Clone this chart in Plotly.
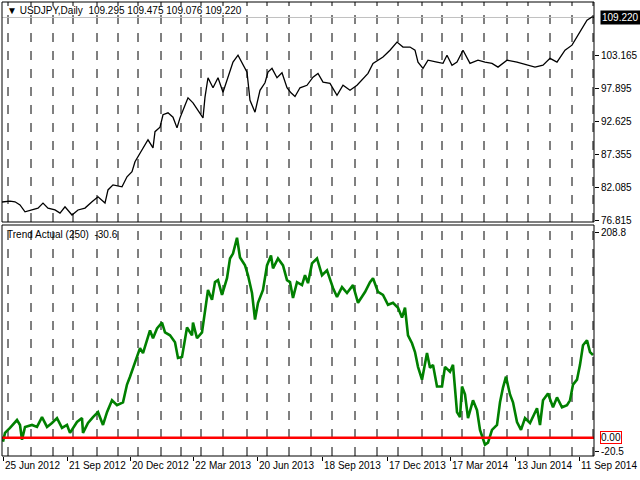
import plotly.graph_objects as go

# bar index (≈ trading days from chart start) and values
price_x = [2,10,15,20,25,32,38,43,48,55,60,65,72,78,85,92,98,105,108,113,122,127,132,135,140,145,148,153,155,160,163,168,173,177,180,185,188,193,198,203,205,208,213,218,223,227,230,233,238,242,247,250,255,260,265,268,272,277,282,287,291,295,300,307,313,318,323,330,337,343,350,357,362,368,373,378,383,390,397,403,410,415,418,423,428,437,443,447,452,457,463,470,478,485,492,498,507,517,527,535,543,550,557,565,572,577,582,587,592,594]
price_y = [79.77,79.9,79.8,79.3,78.2,78.5,78.8,79.6,78.8,78.5,78.0,79.0,77.7,78.5,78.8,79.8,80.6,79.6,81.7,82.5,82.2,83.8,84.6,86.2,87.6,88.9,89.7,88.4,91.0,91.7,93.7,94.0,93.3,91.6,93.2,95.2,96.4,95.6,94.5,93.2,96.5,99.6,98.0,99.6,97.3,99.2,100.5,102.1,103.2,102.1,100.5,96.0,94.1,97.6,98.8,100.5,101.1,99.6,100.4,98.0,97.2,96.6,98.0,98.4,99.7,100.3,98.9,98.7,96.8,98.4,97.6,98.4,99.2,100.3,101.9,102.4,102.9,104.0,105.3,104.5,104.5,104.0,102.1,101.1,102.4,102.1,101.9,103.2,101.6,102.1,104.0,101.9,102.4,102.1,101.9,101.3,102.4,102.1,101.6,101.3,101.6,102.7,102.1,104.0,104.8,106.1,107.5,108.8,109.3,109.22]

trend_x = [3,5,10,17,20,22,25,32,37,42,47,52,57,62,67,70,77,82,83,88,93,98,103,107,112,117,123,127,130,135,140,143,147,150,153,157,162,165,170,175,178,182,187,192,193,197,202,205,208,212,215,218,222,227,230,233,237,240,245,248,252,255,258,263,267,271,273,278,283,287,290,293,297,302,305,308,312,317,322,327,333,337,342,347,353,358,365,370,373,378,383,388,393,398,402,405,408,412,415,418,422,427,430,433,437,442,445,450,453,457,460,462,465,468,473,477,480,485,488,492,497,500,503,506,510,513,517,521,525,530,537,540,543,548,553,557,562,567,570,573,577,580,583,587,590,593]
trend_y = [-4,5,10,18,13,-2,11,13,11,21,11,15,20,10,13,5,16,20,5,15,21,26,13,26,38,33,36,54,62,77,91,86,99,109,101,111,117,107,104,97,81,82,112,104,117,101,107,130,150,140,158,160,145,162,182,187,203,183,175,165,147,120,137,150,175,185,172,182,175,160,158,142,158,155,165,157,177,182,165,170,152,143,153,147,155,137,148,158,162,148,145,135,137,132,122,132,104,96,87,72,59,86,71,74,52,52,72,67,74,26,21,52,44,20,38,28,8,-7,-5,8,13,36,51,62,44,36,16,8,20,15,30,13,38,45,31,41,31,33,38,54,59,74,94,99,87,84]

date_pos = [3,67,130,193,257,322,387,450,515,579]
date_labels = ["25 Jun 2012","21 Sep 2012","20 Dec 2012","22 Mar 2013","20 Jun 2013",
               "18 Sep 2013","17 Dec 2013","17 Mar 2014","13 Jun 2014","11 Sep 2014"]
grid_x = [8,31,53,73,97,118,138,161,181,201,223,247,267,289,311,332,355,377,398,422,442,462,484,507,528,550,572,593]
price_ticks = [103.165,97.895,92.625,87.355,82.085,76.815]
last_price = 109.22

FONT = "Liberation Sans"
FS = 10
fig = go.Figure()
fig.add_trace(go.Scatter(x=price_x, y=price_y, mode="lines", line=dict(color="black", width=1.3),
                         xaxis="x", yaxis="y", hoverinfo="skip"))
fig.add_trace(go.Scatter(x=trend_x, y=trend_y, mode="lines", line=dict(color="#008000", width=2.6),
                         xaxis="x2", yaxis="y2", hoverinfo="skip"))

X0, X1 = 2/640, 594/640
up = [(480-222)/480, 478/480]
lo = [(480-456)/480, (480-225)/480]
xr = [2, 594]
fig.update_layout(
    width=640, height=480, margin=dict(l=0, r=0, t=0, b=0, autoexpand=False),
    paper_bgcolor="white", plot_bgcolor="white", showlegend=False,
    font=dict(family=FONT, size=FS, color="black"),
    xaxis=dict(domain=[X0, X1], range=xr, showgrid=False, showticklabels=False, zeroline=False, anchor="y", automargin=False),
    xaxis2=dict(domain=[X0, X1], range=xr, showgrid=False, zeroline=False, anchor="y2", automargin=False,
                tickvals=date_pos, ticktext=[""]*len(date_pos), ticks="outside", ticklen=4, tickcolor="black"),
    yaxis=dict(domain=up, range=[76.58, 111.69], side="right", showgrid=False, zeroline=False, automargin=False,
               tickvals=price_ticks, ticktext=[f"{v:.3f}" for v in price_ticks],
               ticks="outside", ticklen=4, tickcolor="black", anchor="x"),
    yaxis2=dict(domain=lo, range=[-18.5, 216], side="right", showgrid=False, zeroline=False, automargin=False,
                tickvals=[208.8, -14], ticktext=["208.8", "-20.5"],
                ticks="outside", ticklen=4, tickcolor="black", anchor="x2"),
)
shapes = []
for g in grid_x:
    for dom in (up, lo):
        shapes.append(dict(type="line", xref="x", yref="paper", x0=g, x1=g, y0=dom[0], y1=dom[1],
                           line=dict(color="black", width=1, dash="dash"), layer="below"))
shapes.append(dict(type="line", xref="paper", yref="y", x0=X0, x1=X1, y0=last_price, y1=last_price,
                   line=dict(color="#c0c0c0", width=1), layer="below"))
shapes.append(dict(type="line", xref="paper", yref="y2", x0=X0, x1=X1, y0=0, y1=0,
                   line=dict(color="red", width=2.5)))
for dom in (up, lo):
    shapes.append(dict(type="rect", xref="paper", yref="paper", x0=X0, x1=X1, y0=dom[0], y1=dom[1],
                       line=dict(color="black", width=1)))
fig.update_layout(shapes=shapes)

ann = [
    dict(x=X0+0.004, y=up[1]-0.002, xref="paper", yref="paper", xanchor="left", yanchor="top", showarrow=False,
         text="▼ USDJPY,Daily  109.295 109.475 109.076 109.220"),
    dict(x=X0+0.004, y=lo[1]-0.004, xref="paper", yref="paper", xanchor="left", yanchor="top", showarrow=False,
         text="Trend Actual (250)  -30.6"),
    dict(x=X1+0.010, y=last_price, xref="paper", yref="y", xanchor="left", showarrow=False,
         text=f"{last_price:.3f}", bgcolor="black", font=dict(color="white"), borderpad=1),
    dict(x=X1+0.010, y=0, xref="paper", yref="y2", xanchor="left", showarrow=False,
         text="0.00", bordercolor="red", borderwidth=1, borderpad=0),
]
for p, t in zip(date_pos, date_labels):
    ann.append(dict(x=p, y=lo[0]-0.004, xref="x2", yref="paper", xanchor="left", yanchor="top",
                    showarrow=False, text=t))
fig.update_layout(annotations=ann)
fig.write_html("out.html", config={"displayModeBar": False},
               post_script="document.body.style.margin='0';document.body.style.overflow='hidden';")
